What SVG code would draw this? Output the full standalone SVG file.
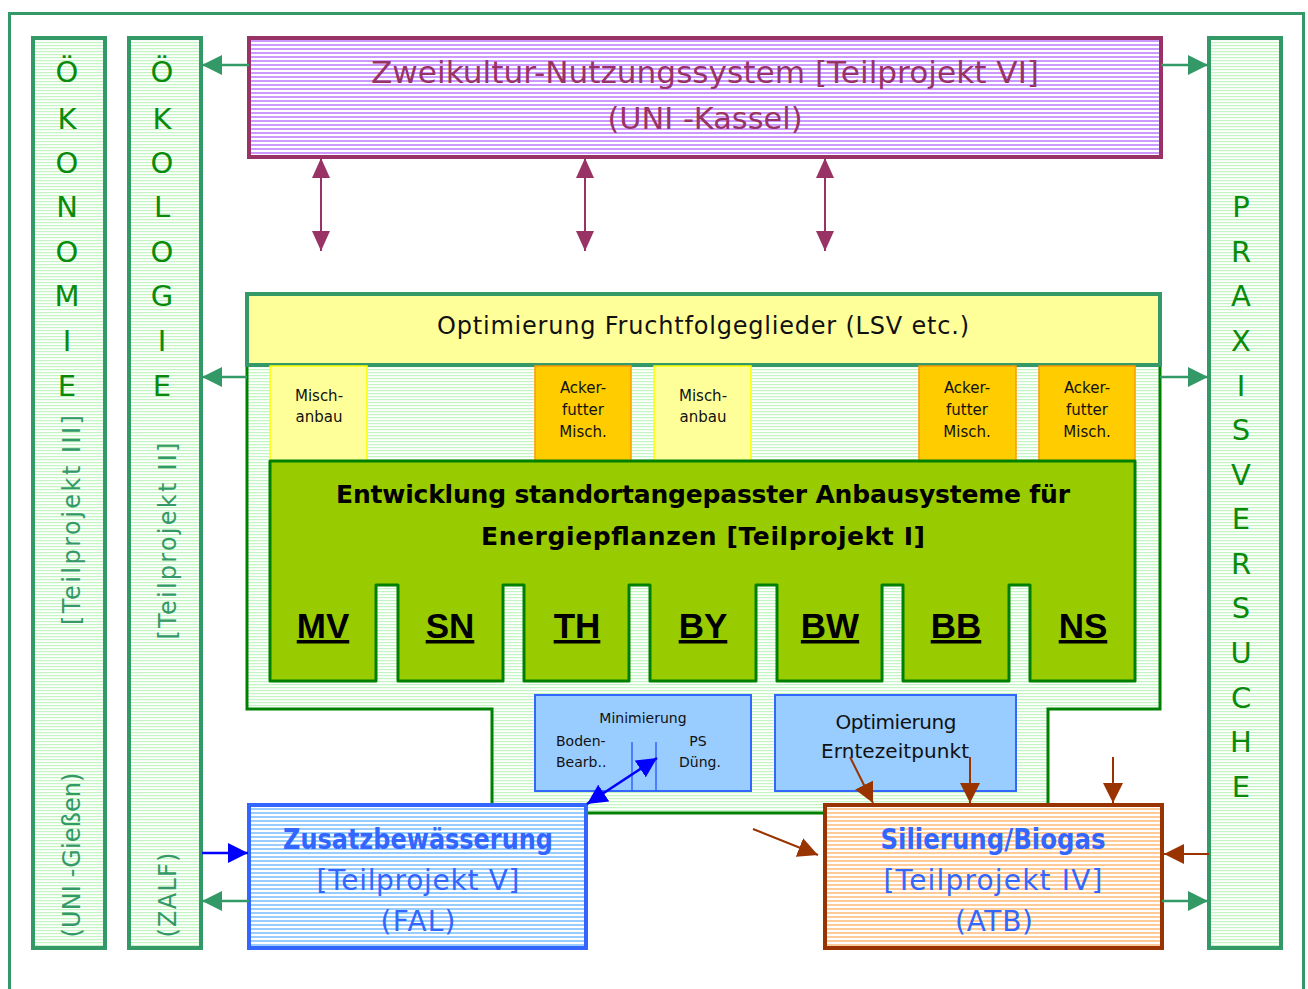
<svg xmlns="http://www.w3.org/2000/svg" width="1308" height="989" viewBox="0 0 1308 989">
<style>
.sans{font-family:"DejaVu Sans","Liberation Sans",sans-serif}
.col{fill:url(#pGreen);stroke:#339966;stroke-width:4}
.letter{font-family:"DejaVu Sans",sans-serif;font-size:29px;fill:#0a8a0a;text-anchor:middle}
.rot{font-family:"DejaVu Sans",sans-serif;font-size:24px;fill:#339966;text-anchor:middle}
.small{font-family:"DejaVu Sans",sans-serif;font-size:15px;fill:#111;text-anchor:middle}
.tiny{font-family:"DejaVu Sans",sans-serif;font-size:14px;fill:#111}
.mid{font-family:"DejaVu Sans",sans-serif;font-size:20px;fill:#111;text-anchor:middle}
.state{font-family:"Liberation Sans",Arial,sans-serif;font-size:35px;font-weight:bold;fill:#000;text-anchor:middle;text-decoration:underline}
.blueT{font-family:"DejaVu Sans",sans-serif;fill:#3366ff;text-anchor:middle;font-size:28px}
.conG{stroke:#339966;stroke-width:2.5;fill:none}
.conP{stroke:#993366;stroke-width:2;fill:none}
.conB{stroke:#0000ff;stroke-width:2.5;fill:none}
.conR{stroke:#993300;stroke-width:2;fill:none}
</style>
<defs>
<pattern id="pGreen" width="4" height="3" patternUnits="userSpaceOnUse"><rect width="4" height="3" fill="#ffffff"/><rect y="0" width="4" height="1.2" fill="#c2f5c2"/></pattern>
<pattern id="pPurple" width="4" height="4" patternUnits="userSpaceOnUse"><rect width="4" height="4" fill="#ffffff"/><rect width="4" height="2" fill="#cc99ff"/></pattern>
<pattern id="pBlue" width="4" height="4" patternUnits="userSpaceOnUse"><rect width="4" height="4" fill="#ffffff"/><rect width="4" height="2" fill="#99ccff"/></pattern>
<pattern id="pOrange" width="4" height="4" patternUnits="userSpaceOnUse"><rect width="4" height="4" fill="#ffffff"/><rect width="4" height="2" fill="#ffcc99"/></pattern>
<marker id="aG" viewBox="0 0 20 20" refX="20" refY="10" markerWidth="20" markerHeight="20" markerUnits="userSpaceOnUse" orient="auto-start-reverse"><path d="M0,0 L20,10 L0,20 Z" fill="#339966"/></marker>
<marker id="aP" viewBox="0 0 20 20" refX="20" refY="10" markerWidth="20" markerHeight="20" markerUnits="userSpaceOnUse" orient="auto-start-reverse"><path d="M0,1 L20,10 L0,19 Z" fill="#993366"/></marker>
<marker id="aB" viewBox="0 0 20 20" refX="20" refY="10" markerWidth="20" markerHeight="20" markerUnits="userSpaceOnUse" orient="auto-start-reverse"><path d="M0,0 L20,10 L0,20 Z" fill="#0000ff"/></marker>
<marker id="aR" viewBox="0 0 20 20" refX="20" refY="10" markerWidth="20" markerHeight="20" markerUnits="userSpaceOnUse" orient="auto-start-reverse"><path d="M0,0 L20,10 L0,20 Z" fill="#993300"/></marker>
</defs>
<rect width="1308" height="989" fill="#ffffff"/>
<rect x="9.5" y="13.5" width="1294" height="1000" fill="none" stroke="#339966" stroke-width="3"/>

<g id="oekonomie">
<rect class="col" x="33" y="38" width="72" height="910"/>
<text class="letter" x="67" y="82">Ö</text><text class="letter" x="67" y="129">K</text><text class="letter" x="67" y="173">O</text><text class="letter" x="67" y="217">N</text><text class="letter" x="67" y="262">O</text><text class="letter" x="67" y="306">M</text><text class="letter" x="67" y="351">I</text><text class="letter" x="67" y="396">E</text>
<text class="rot" transform="translate(80,520) rotate(-90)" textLength="210">[Teilprojekt III]</text>
<text class="rot" transform="translate(80,855) rotate(-90)" textLength="165">(UNI -Gießen)</text>
</g>
<g id="oekologie">
<rect class="col" x="129" y="38" width="72" height="910"/>
<text class="letter" x="162" y="82">Ö</text><text class="letter" x="162" y="129">K</text><text class="letter" x="162" y="173">O</text><text class="letter" x="162" y="217">L</text><text class="letter" x="162" y="262">O</text><text class="letter" x="162" y="306">G</text><text class="letter" x="162" y="351">I</text><text class="letter" x="162" y="396">E</text>
<text class="rot" transform="translate(176,541) rotate(-90)" textLength="197">[Teilprojekt II]</text>
<text class="rot" transform="translate(176,895) rotate(-90)" textLength="85">(ZALF)</text>
</g>
<g id="praxisversuche">
<rect class="col" x="1209" y="38" width="72" height="910"/>
<text class="letter" x="1241" y="217">P</text><text class="letter" x="1241" y="262">R</text><text class="letter" x="1241" y="306">A</text><text class="letter" x="1241" y="351">X</text><text class="letter" x="1241" y="396">I</text><text class="letter" x="1241" y="440">S</text><text class="letter" x="1241" y="485">V</text><text class="letter" x="1241" y="529">E</text><text class="letter" x="1241" y="574">R</text><text class="letter" x="1241" y="618">S</text><text class="letter" x="1241" y="663">U</text><text class="letter" x="1241" y="708">C</text><text class="letter" x="1241" y="752">H</text><text class="letter" x="1241" y="797">E</text>
</g>

<g id="zweikultur">
<rect x="249" y="38" width="912" height="119" fill="url(#pPurple)" stroke="#993366" stroke-width="4"/>
<text class="sans" x="705" y="83" font-size="30" fill="#993366" text-anchor="middle" textLength="668" lengthAdjust="spacingAndGlyphs">Zweikultur-Nutzungssystem [Teilprojekt VI]</text>
<text class="sans" x="705" y="129" font-size="30" fill="#993366" text-anchor="middle" textLength="195" lengthAdjust="spacingAndGlyphs">(UNI -Kassel)</text>
</g>

<g id="container">
<path d="M247,365 L247,709 L492,709 L492,813 L1048,813 L1048,709 L1160,709 L1160,365" fill="url(#pGreen)" stroke="#008000" stroke-width="3"/>
</g>
<g id="fruchtfolge">
<rect x="247" y="294" width="913" height="71" fill="#ffff99" stroke="#339966" stroke-width="4"/>
<text class="sans" x="703" y="334" font-size="24" fill="#111" text-anchor="middle" textLength="532">Optimierung Fruchtfolgeglieder (LSV etc.)</text>
</g>

<g id="mischanbau1">
<rect x="270" y="366" width="97" height="95" fill="#ffff99" stroke="#ffff00" stroke-width="1.5"/>
<text class="small" x="319" y="401">Misch-</text><text class="small" x="319" y="422">anbau</text>
</g>
<g id="ackerfutter1">
<rect x="535" y="366" width="96" height="95" fill="#ffcc00" stroke="#ff9900" stroke-width="1.5"/>
<text class="small" x="583" y="393">Acker-</text><text class="small" x="583" y="415">futter</text><text class="small" x="583" y="437">Misch.</text>
</g>
<g id="mischanbau2">
<rect x="654" y="366" width="97" height="95" fill="#ffff99" stroke="#ffff00" stroke-width="1.5"/>
<text class="small" x="703" y="401">Misch-</text><text class="small" x="703" y="422">anbau</text>
</g>
<g id="ackerfutter2">
<rect x="919" y="366" width="97" height="95" fill="#ffcc00" stroke="#ff9900" stroke-width="1.5"/>
<text class="small" x="967" y="393">Acker-</text><text class="small" x="967" y="415">futter</text><text class="small" x="967" y="437">Misch.</text>
</g>
<g id="ackerfutter3">
<rect x="1039" y="366" width="96" height="95" fill="#ffcc00" stroke="#ff9900" stroke-width="1.5"/>
<text class="small" x="1087" y="393">Acker-</text><text class="small" x="1087" y="415">futter</text><text class="small" x="1087" y="437">Misch.</text>
</g>

<g id="entwicklung">
<path d="M270,461 H1135 V681 H1030 V585 H1009 V681 H903 V585 H882 V681 H777 V585 H756 V681 H650 V585 H629 V681 H524 V585 H503 V681 H398 V585 H376 V681 H270 Z" fill="#99cc00" stroke="#008000" stroke-width="3" stroke-linejoin="round"/>
<text class="sans" x="703" y="503" font-size="25" font-weight="bold" fill="#000" text-anchor="middle" textLength="734">Entwicklung standortangepasster Anbausysteme für</text>
<text class="sans" x="703" y="545" font-size="25" font-weight="bold" fill="#000" text-anchor="middle" textLength="444">Energiepflanzen [Teilprojekt I]</text>
<text class="state" x="323" y="638">MV</text>
<text class="state" x="450" y="638">SN</text>
<text class="state" x="577" y="638">TH</text>
<text class="state" x="703" y="638">BY</text>
<text class="state" x="830" y="638">BW</text>
<text class="state" x="956" y="638">BB</text>
<text class="state" x="1083" y="638">NS</text>
</g>

<g id="minimierung">
<rect x="535" y="695" width="216" height="96" fill="#99ccff" stroke="#3366ff" stroke-width="2"/>
<line x1="632" y1="742" x2="632" y2="791" stroke="#3366ff" stroke-width="1.5"/>
<line x1="656" y1="742" x2="656" y2="791" stroke="#3366ff" stroke-width="1.5"/>
<text class="tiny" x="643" y="723" text-anchor="middle">Minimierung</text>
<text class="tiny" x="556" y="746">Boden-</text>
<text class="tiny" x="556" y="767">Bearb..</text>
<text class="tiny" x="698" y="746" text-anchor="middle">PS</text>
<text class="tiny" x="700" y="767" text-anchor="middle">Düng.</text>
</g>
<g id="erntezeitpunkt">
<rect x="775" y="695" width="241" height="96" fill="#99ccff" stroke="#3366ff" stroke-width="2"/>
<text class="mid" x="896" y="729" textLength="121">Optimierung</text>
<text class="mid" x="895" y="758" textLength="148">Erntezeitpunkt</text>
</g>

<g id="zusatzbewaesserung">
<rect x="249" y="805" width="337" height="143" fill="url(#pBlue)" stroke="#3366ff" stroke-width="4"/>
<text class="blueT" x="418" y="849" font-weight="bold" textLength="270" lengthAdjust="spacingAndGlyphs">Zusatzbewässerung</text>
<text class="blueT" x="418" y="890" textLength="203">[Teilprojekt V]</text>
<text class="blueT" x="418" y="931" textLength="75">(FAL)</text>
</g>
<g id="silierung">
<rect x="825" y="805" width="337" height="143" fill="url(#pOrange)" stroke="#993300" stroke-width="4"/>
<text class="blueT" x="993" y="849" font-weight="bold" textLength="225" lengthAdjust="spacingAndGlyphs">Silierung/Biogas</text>
<text class="blueT" x="993" y="890" textLength="219">[Teilprojekt IV]</text>
<text class="blueT" x="994" y="931" textLength="78">(ATB)</text>
</g>

<g id="connectors">
<line class="conG" x1="249" y1="65" x2="202" y2="65" marker-end="url(#aG)"/>
<line class="conG" x1="1161" y1="65" x2="1208" y2="65" marker-end="url(#aG)"/>
<line class="conG" x1="247" y1="377" x2="202" y2="377" marker-end="url(#aG)"/>
<line class="conG" x1="1160" y1="377" x2="1208" y2="377" marker-end="url(#aG)"/>
<line class="conP" x1="321" y1="158" x2="321" y2="251" marker-start="url(#aP)" marker-end="url(#aP)"/>
<line class="conP" x1="585" y1="158" x2="585" y2="251" marker-start="url(#aP)" marker-end="url(#aP)"/>
<line class="conP" x1="825" y1="158" x2="825" y2="251" marker-start="url(#aP)" marker-end="url(#aP)"/>
<line class="conB" x1="657" y1="758" x2="587" y2="804" marker-start="url(#aB)" marker-end="url(#aB)"/>
<line class="conB" x1="202" y1="853" x2="248" y2="853" marker-end="url(#aB)"/>
<line class="conG" x1="249" y1="901" x2="202" y2="901" marker-end="url(#aG)"/>
<line class="conR" x1="850" y1="757" x2="873" y2="803" marker-end="url(#aR)"/>
<line class="conR" x1="970" y1="757" x2="970" y2="803" marker-end="url(#aR)"/>
<line class="conR" x1="1113" y1="757" x2="1113" y2="803" marker-end="url(#aR)"/>
<line class="conR" x1="753" y1="829" x2="818" y2="855" marker-end="url(#aR)"/>
<line class="conR" x1="1209" y1="854" x2="1164" y2="854" marker-end="url(#aR)"/>
<line class="conG" x1="1162" y1="901" x2="1208" y2="901" marker-end="url(#aG)"/>
</g>
</svg>
